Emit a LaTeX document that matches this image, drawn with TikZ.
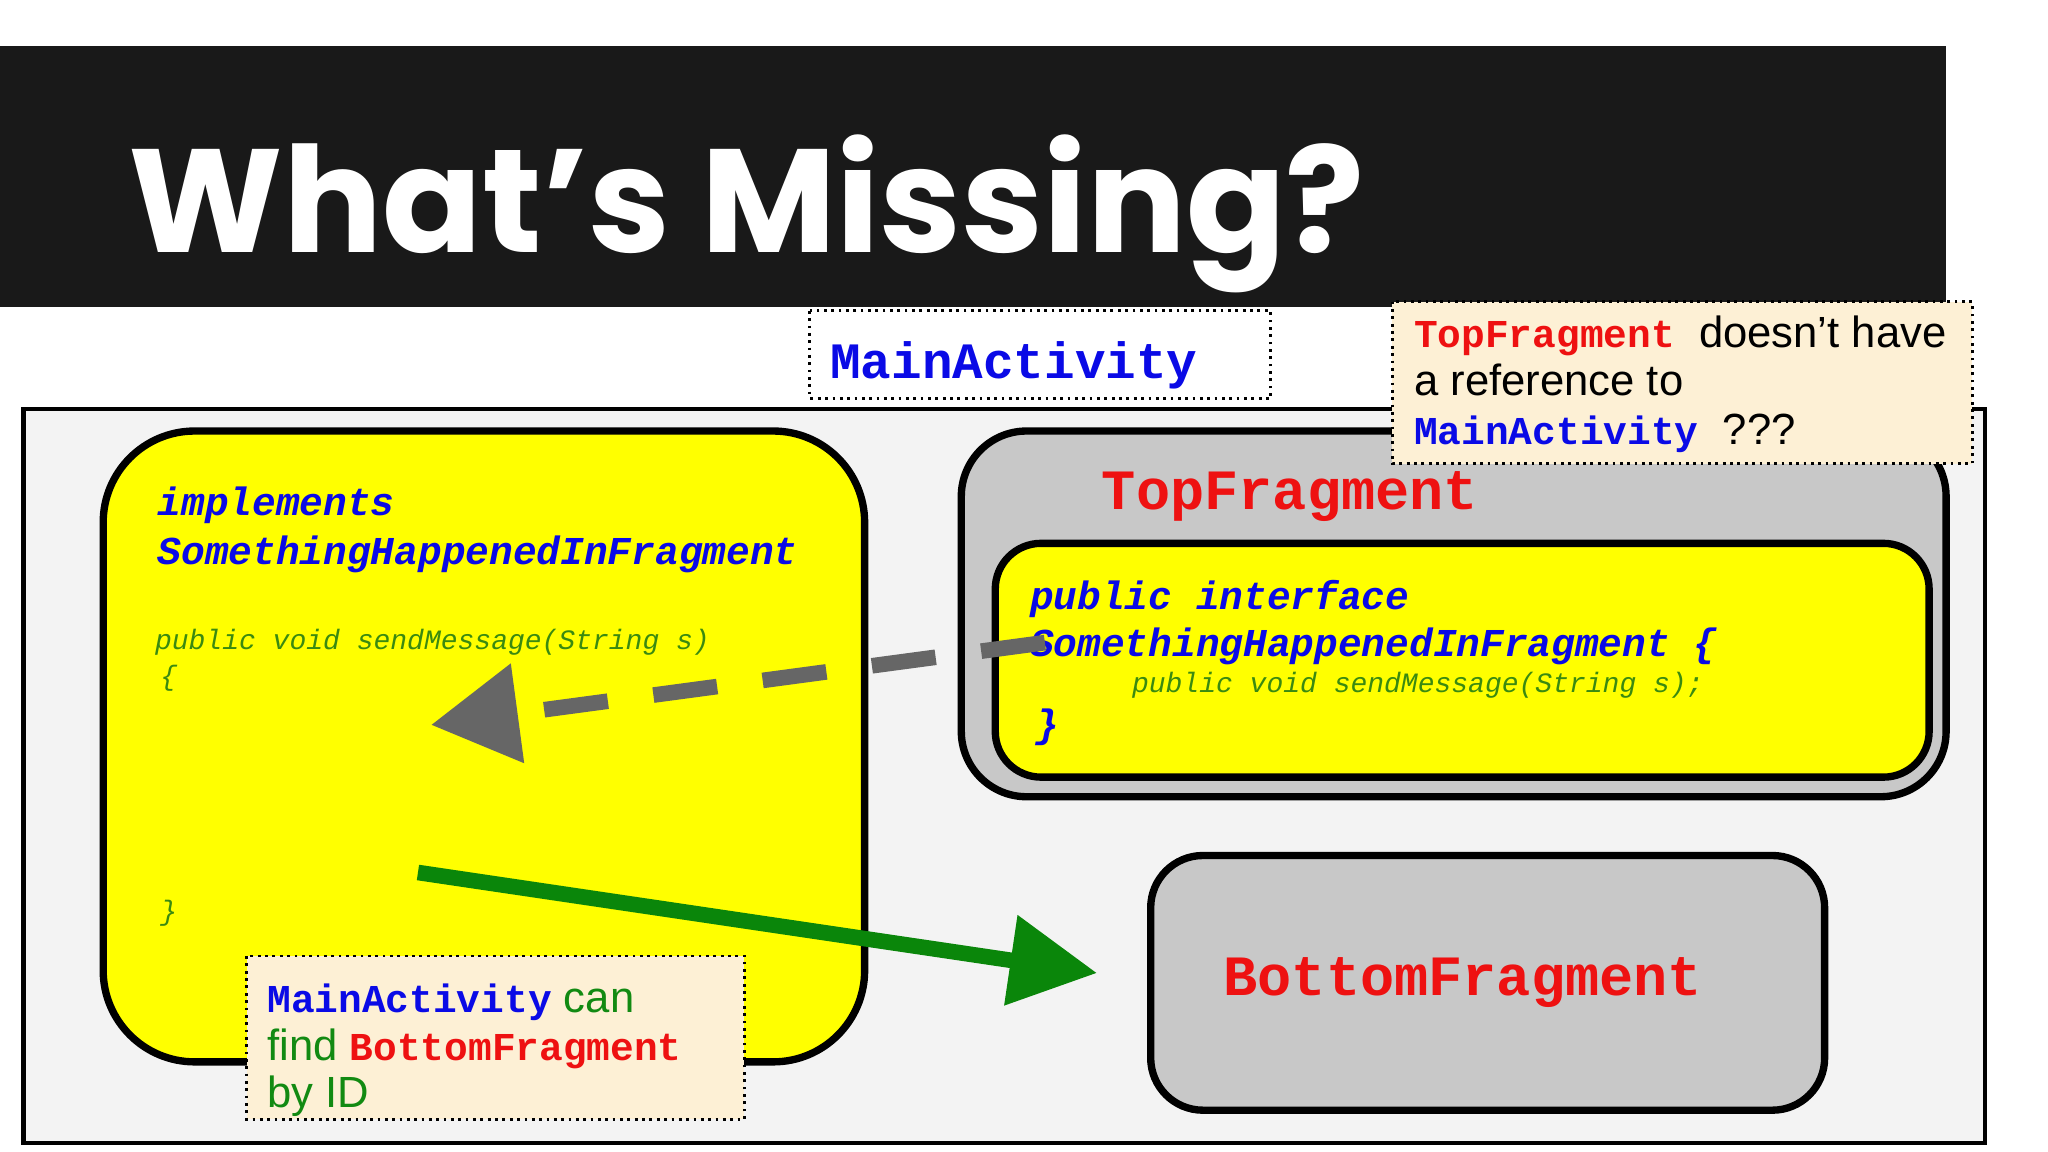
\documentclass[tikz,border=0pt]{standalone}
\usepackage{fontspec}
\setmainfont{Liberation Sans}
\newfontfamily\mono{Liberation Mono}
\newfontfamily\titlefont{Poppins}
\usetikzlibrary{arrows.meta}
\definecolor{cblue}{HTML}{0A0AE6}
\definecolor{cred}{HTML}{EE1111}
\definecolor{cgreen}{HTML}{3A8A10}
\definecolor{sgreen}{HTML}{128A12}
\definecolor{cream}{HTML}{FDF0D5}
\definecolor{lgray}{HTML}{F3F3F3}
\definecolor{mgray}{HTML}{C8C8C8}
\definecolor{dgray}{HTML}{666666}
\definecolor{ayel}{HTML}{FFFF00}
\definecolor{agreen}{HTML}{0A860A}
\newcommand{\nmono}{\mono\bfseries\fontsize{8.6pt}{10pt}\selectfont}
\tikzset{
  code/.style={anchor=base west,inner sep=0pt,font=\mono\bfseries\itshape\fontsize{8.6pt}{10pt}\selectfont,text=cblue},
  small/.style={anchor=base west,inner sep=0pt,font=\mono\itshape\fontsize{6.1pt}{7pt}\selectfont,text=cgreen},
  frag/.style={font=\mono\bfseries\fontsize{12.4pt}{14pt}\selectfont,text=cred,inner sep=0pt},
  box/.style={draw=black,line width=1.6pt},
  note/.style={draw=black,densely dotted,line width=0.6pt,fill=cream},
  txt/.style={anchor=base west,inner sep=0pt,font=\fontsize{9.5pt}{11pt}\selectfont},
}
\begin{document}
\begin{tikzpicture}[x=0.01cm,y=-0.01cm]
\useasboundingbox[fill=white] (0,0) rectangle (1568,882);
\fill[black!90] (0,35) rectangle (1490,235);
\node[anchor=base west,inner sep=0pt,text=white,font=\titlefont\bfseries\fontsize{32pt}{34pt}\selectfont] (title) at (98,193) {What’s Missing?};
% outer
\draw[fill=lgray,line width=0.9pt] (18,313) rectangle (1520,875);
\draw[densely dotted,line width=0.6pt,fill=white] (620,238) rectangle (973,305);
\node[anchor=base west,inner sep=0pt,text=cblue,font=\mono\bfseries\fontsize{11.1pt}{13pt}\selectfont] (matext) at (635,290) {MainActivity};
% left yellow
\draw[box,fill=ayel,rounded corners=0.7cm] (79,330) rectangle (662,813);
\node[code] (impl) at (120,395) {implements};
\node[code] (shif) at (120,432) {SomethingHappenedInFragment};
\node[small] (sm) at (118,497) {public void sendMessage(String s)};
\node[small] (ob) at (122,525) {\{};
\node[small] (cb) at (122,705) {\}};
% top fragment
\draw[box,fill=mgray,rounded corners=0.5cm] (736,330) rectangle (1490,610);
\node[frag,anchor=base west] (tf) at (843,390) {TopFragment};
\draw[box,fill=ayel,rounded corners=0.35cm] (762,416) rectangle (1477,595);
\node[code] (pi) at (788,467) {public interface};
\node[code] (shif2) at (788,503) {SomethingHappenedInFragment \{};
\node[small] (sm2) at (866,530) {public void sendMessage(String s);};
\node[code] (cb2) at (792,565) {\}};
% bottom fragment
\draw[box,fill=mgray,rounded corners=0.4cm] (881,655) rectangle (1397,850);
\node[frag] (bf) at (1120,752) {BottomFragment};
% arrows
\coordinate (ds) at (800,492);
\coordinate (de) at (330,555);
\draw[dgray,line width=3.4pt,dash pattern=on 14pt off 10pt,-{Triangle[length=19pt,width=21pt]}] (ds) -- (de);
\coordinate (gs) at (320,668);
\coordinate (ge) at (840,745);
\draw[agreen,line width=3.4pt,-{Triangle[length=19pt,width=19pt]}] (gs) -- (ge);
% notes
\draw[note] (189,732) rectangle (570,857);
\node[txt] (n1) at (204,775) {\textcolor{cblue}{\nmono MainActivity}\ \textcolor{sgreen}{can}};
\node[txt] (n2) at (204,812) {\textcolor{sgreen}{find} \textcolor{cred}{\nmono BottomFragment}};
\node[txt,text=sgreen] (n3) at (204,848) {by ID};
\draw[note] (1066,231) rectangle (1510,355);
\node[txt] (t1) at (1082,266) {\textcolor{cred}{\nmono TopFragment}\ \ doesn’t have};
\node[txt] (t2) at (1082,303) {a reference to};
\node[txt] (t3) at (1082,340) {\textcolor{cblue}{\nmono MainActivity}\ \ ???};
\end{tikzpicture}
\end{document}
